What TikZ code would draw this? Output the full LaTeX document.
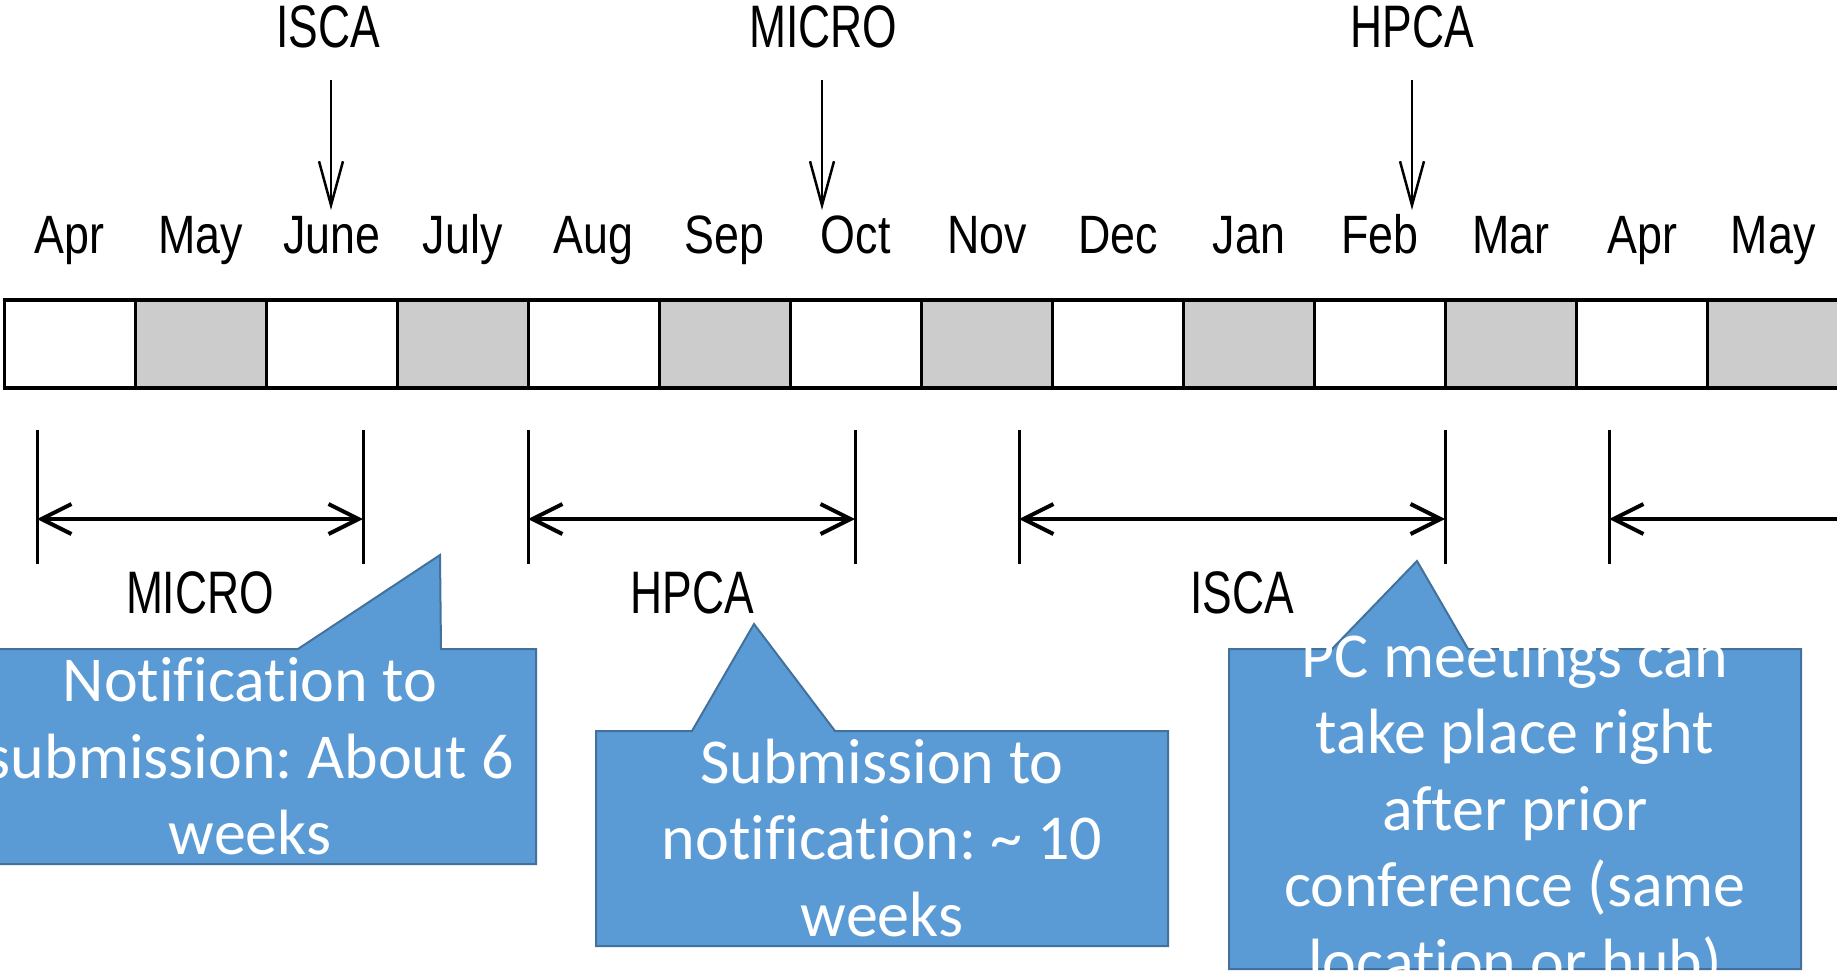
\documentclass[tikz,border=0pt]{standalone}
\usepackage{fontspec}
\setmainfont{Liberation Sans}
\newfontfamily\conffont[FakeStretch=0.74]{Liberation Sans}
\newfontfamily\monthfont[FakeStretch=0.83]{Liberation Sans}
\newfontfamily\callfont[Ligatures={NoCommon,NoRare,NoContextual}]{Carlito}
\usetikzlibrary{arrows.meta}
\definecolor{cellgray}{HTML}{CCCCCC}
\definecolor{callfill}{HTML}{5B9BD5}
\definecolor{calledge}{HTML}{41719C}
\frenchspacing
\begin{document}
\begin{tikzpicture}[x=1pt,y=-1pt,
  conf/.style={font=\conffont\fontsize{60}{62}\selectfont, inner sep=0pt, anchor=base},
  month/.style={font=\monthfont\fontsize{54}{56}\selectfont, inner sep=0pt, anchor=base},
  calltext/.style={font=\callfont\fontsize{64}{76}\selectfont, text=white, inner sep=0pt, anchor=base},
  callout/.style={fill=callfill, draw=calledge, line width=2pt, line join=miter},
  tickline/.style={line width=3pt},
  span/.style={line width=4pt, {Straight Barb[length=30pt,width=30pt]}-{Straight Barb[length=30pt,width=30pt]}},
  lspan/.style={line width=4pt, {Straight Barb[length=30pt,width=30pt]}-},
  down/.style={line width=2.5pt, -{Straight Barb[length=44pt,width=24pt]}},
]
\useasboundingbox (0,0) rectangle (1837,972);

% month bar
\foreach \i/\m in {0/Apr,1/May,2/June,3/July,4/Aug,5/Sep,6/Oct,7/Nov,8/Dec,9/Jan,10/Feb,11/Mar,12/Apr,13/May}{
  \pgfmathsetmacro\xa{4+131.05*\i}
  \pgfmathsetmacro\xb{4+131.05*(\i+1)}
  \pgfmathsetmacro\xc{4+131.05*(\i+0.5)}
  \ifodd\i \def\fc{cellgray}\else\def\fc{white}\fi
  \draw[line width=3pt, fill=\fc] (\xa,300) rectangle (\xb,388);
  \node[month] (m\i) at (\xc,253) {\m};
}
\draw[line width=4.5pt] (2.5,300) -- (1845,300) (2.5,388) -- (1845,388);

% conference deadlines on top
\node[conf] (tisca)  at (328,47)  {ISCA};
\node[conf] (tmicro) at (823,47)  {MICRO};
\node[conf] (thpca)  at (1412,47) {HPCA};
\coordinate (iscaA) at (331,80);   \coordinate (iscaB) at (331,210);
\coordinate (microA) at (822,80);  \coordinate (microB) at (822,210);
\coordinate (hpcaA) at (1412,80);  \coordinate (hpcaB) at (1412,210);
\draw[down] (iscaA) -- (iscaB);
\draw[down] (microA) -- (microB);
\draw[down] (hpcaA) -- (hpcaB);

% ticks and spans
\foreach \n/\x in {1/37,2/363,3/528,4/855,5/1019,6/1445,7/1609}{
  \coordinate (ta\n) at (\x,430);
  \coordinate (tb\n) at (\x,564);
  \coordinate (sp\n) at (\x,519);
  \draw[tickline] (ta\n) -- (tb\n);
}
\coordinate (spend) at (1850,519);
\draw[span] (sp1) -- (sp2);
\draw[span] (sp3) -- (sp4);
\draw[span] (sp5) -- (sp6);
\draw[lspan] (sp7) -- (spend);

\node[conf] (bmicro) at (200,613)  {MICRO};
\node[conf] (bhpca)  at (692,613)  {HPCA};
\node[conf] (bisca)  at (1242,613) {ISCA};

% callouts
\draw[callout] (-36,649) -- (298,649) -- (440,555) -- (441,649) -- (536,649) -- (536,864) -- (-36,864) -- cycle;
\draw[callout] (596,731) -- (692,731) -- (754,624) -- (835,731) -- (1168,731) -- (1168,946) -- (596,946) -- cycle;
\draw[callout] (1229,649) -- (1332,649) -- (1417,561) -- (1468,649) -- (1801,649) -- (1801,969) -- (1229,969) -- cycle;

\node[calltext] (c1a) at (250,701.5) {Notification to};
\node[calltext] (c1b) at (250,778) {submission: About 6};
\node[calltext] (c1c) at (250,854.5) {weeks};

\node[calltext] (c2a) at (882,783) {Submission to};
\node[calltext] (c2b) at (882,859.5) {notification: \textasciitilde{} 10};
\node[calltext] (c2c) at (882,936) {weeks};

\node[calltext] (c3a) at (1515,677) {PC meetings can};
\node[calltext] (c3b) at (1515,753.5) {take place right};
\node[calltext] (c3c) at (1515,830) {after prior};
\node[calltext] (c3d) at (1515,906.5) {conference (same};
\node[calltext] (c3e) at (1515,983) {location or hub)};
\end{tikzpicture}
\end{document}
